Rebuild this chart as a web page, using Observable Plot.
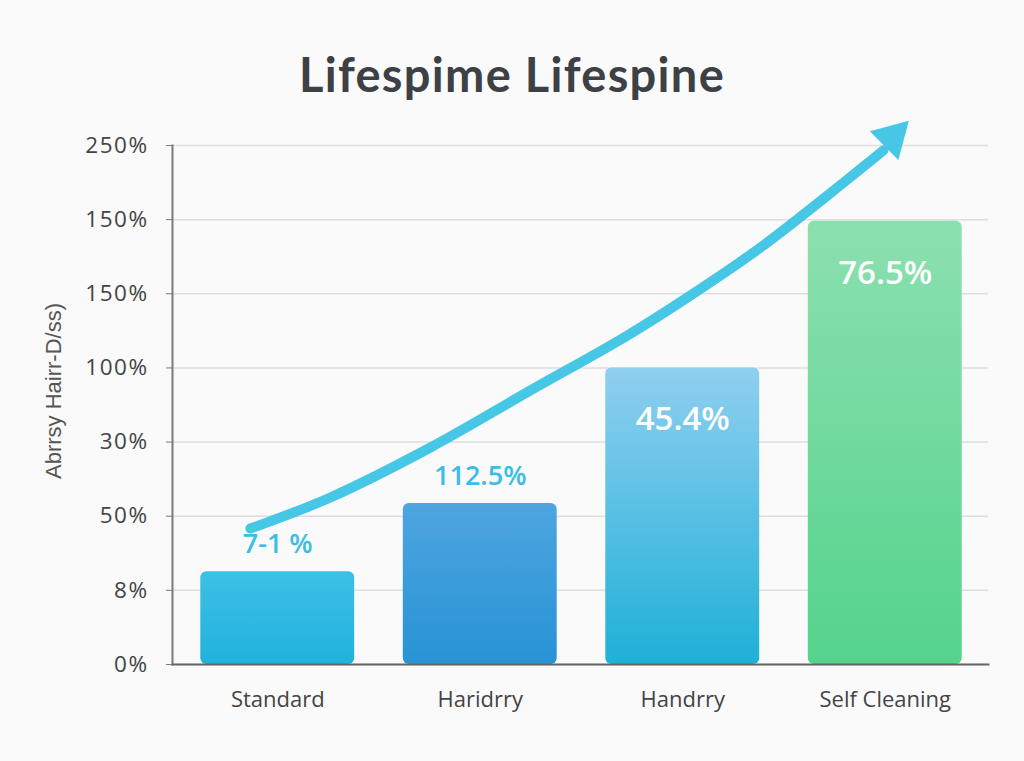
<!DOCTYPE html>
<html>
<head>
<meta charset="utf-8">
<script src="https://cdn.jsdelivr.net/npm/d3@7"></script>
<script src="https://cdn.jsdelivr.net/npm/@observablehq/plot@0.6"></script>
<style>
  html, body { margin: 0; padding: 0; background: #fafafa; }
  #wrap { width: 1024px; height: 761px; position: relative; overflow: hidden; }
  #title { height: 110px; box-sizing: border-box; padding-top: 48px; text-align: center;
           font-family: Lato, "Open Sans", sans-serif; font-weight: 700; font-size: 47px;
           line-height: 52px; color: #3d4044; letter-spacing: 1.3px; }
  #chart svg { display: block; background: transparent; }
  #chart svg g[aria-label="y-axis tick label"] text { letter-spacing: 1.5px; }
</style>
</head>
<body>
<div id="wrap">
  <div id="title">Lifespime Lifespine</div>
  <div id="chart"></div>
</div>
<script>
// ---- data ----
const categories = ["Standard", "Haridrry", "Handrry", "Self Cleaning"];
const barValues = [1.25, 2.17, 4.0, 5.98];           // in tick-index units of the y axis
const valueLabels = ["7-1 %", "112.5%", "45.4%", "76.5%"];
const labelInside = [false, false, true, true];
const yTickLabels = ["0%", "8%", "50%", "30%", "100%", "150%", "150%", "250%"];
const yAxisTitle = "Abrrsy Hairr-D/ss)";
const barColorsTop = ["#3dc0e7", "#4ea5e0", "#8fcff0", "#8ce0b0"];
const barColorsBottom = ["#20b2dd", "#2793d5", "#1fb0d7", "#54d38c"];
const arrowX = [-0.135, 0.26, 0.754, 1.248, 1.727, 2.053, 2.384, 2.715, 2.991];
const arrowY = [1.834, 2.253, 2.927, 3.696, 4.438, 5.004, 5.624, 6.326, 6.933];
const arrowHead = [{x: 3.035, y: 7.11}];

const bars = categories.map((c, i) => ({
  i, category: c, value: barValues[i], label: valueLabels[i], inside: labelInside[i],
  fill: `url(#barGrad${i})`
}));
const arrowPts = arrowX.map((x, i) => ({x, y: arrowY[i]}));

const font = "'Open Sans', Lato, sans-serif";

const chart = Plot.plot({
  width: 1024,
  height: 614,
  marginTop: 35,
  marginBottom: 60,
  marginLeft: 172,
  marginRight: 36,
  style: {fontFamily: font, background: "transparent"},
  x: {type: "linear", domain: [-0.5, 3.5], insetLeft: 4, insetRight: 2},
  y: {domain: [0, 7]},
  color: {type: "identity"},
  marks: [
    Plot.gridY(d3.range(0, 8), {stroke: "#dedede", strokeOpacity: 1, strokeWidth: 1.5}),
    Plot.rectY(bars, {
      x1: d => d.i - 0.38, x2: d => d.i + 0.38, y1: 0, y2: "value",
      fill: "fill", rx: 6
    }),
    Plot.frame({anchor: "left", stroke: "#7a7a7a", strokeWidth: 2}),
    Plot.frame({anchor: "bottom", stroke: "#666", strokeWidth: 2}),
    Plot.axisY(d3.range(0, 8), {
      tickSize: 6, tickPadding: 18, stroke: "#7a7a7a",
      tickFormat: d => yTickLabels[d], fontSize: 22.5, fill: "#444", label: null
    }),
    Plot.axisX(d3.range(0, 4), {
      tickSize: 0, tickPadding: 27, tickFormat: d => categories[d],
      fontSize: 22, fill: "#444", label: null
    }),
    Plot.text([yAxisTitle], {
      frameAnchor: "left", textAnchor: "middle", rotate: -90, dx: -119, dy: -14,
      fontSize: 22, fill: "#555", fontFamily: "'Liberation Sans', Arial, sans-serif",
      style: {letterSpacing: "1px"}
    }),
    Plot.line(arrowPts, {x: "x", y: "y", curve: "catmull-rom", stroke: "#45c7e5", strokeWidth: 10}),
    Plot.dot(arrowHead, {x: "x", y: "y", symbol: "triangle", r: 15, rotate: 45, fill: "#45c7e5", stroke: null}),
    Plot.text(bars.filter(d => !d.inside), {
      x: "i", y: "value", text: "label", dy: -27, fontSize: 27, fontWeight: 600, fill: "#3bbde7"
    }),
    Plot.text(bars.filter(d => d.inside), {
      x: "i", y: "value", text: "label", dy: 52, fontSize: 33, fontWeight: 600, fill: "#ffffff",
      style: {letterSpacing: "1.5px"}
    })
  ]
});

const defs = d3.select(chart).insert("defs", ":first-child");
bars.forEach((d, i) => {
  const g = defs.append("linearGradient").attr("id", `barGrad${i}`)
    .attr("x1", 0).attr("y1", 0).attr("x2", 0).attr("y2", 1);
  g.append("stop").attr("offset", "0%").attr("stop-color", barColorsTop[i]);
  g.append("stop").attr("offset", "100%").attr("stop-color", barColorsBottom[i]);
});

document.getElementById("chart").appendChild(chart);
</script>
</body>
</html>
